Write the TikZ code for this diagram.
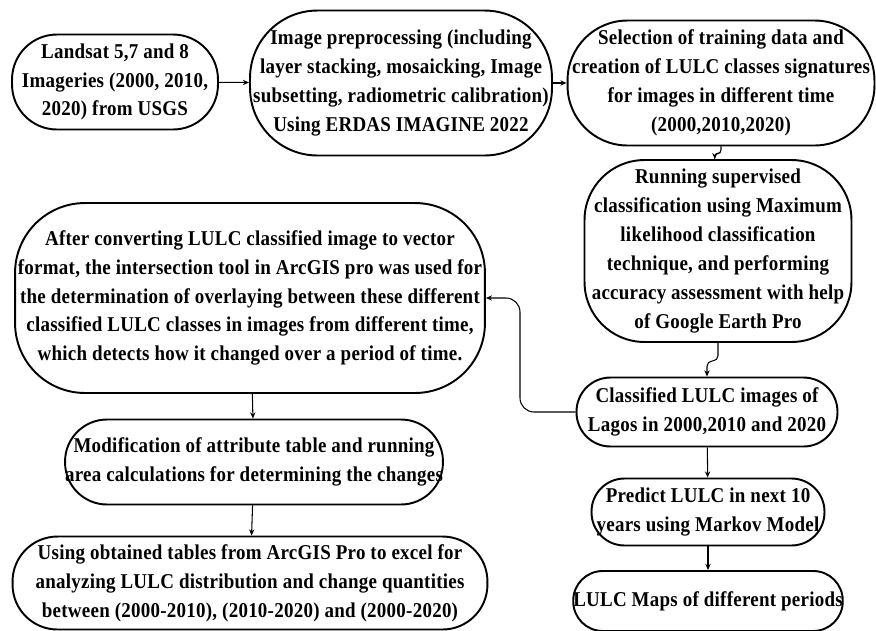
\documentclass[tikz,border=0pt]{standalone}
\usepackage{fontspec}
\setmainfont{Liberation Serif}[FakeStretch=0.9, LetterSpace=1.2]
\usetikzlibrary{arrows.meta}

\tikzset{
  stage/.style={draw, line width=1.1pt, align=center, inner sep=0pt,
    font=\bfseries\fontsize{12}{16.4}\selectfont},
  flow/.style={line width=0.6pt, -{Stealth[length=3.5pt, width=3pt]}},
}

\begin{document}
\begin{tikzpicture}[x=0.02cm, y=-0.02cm]
  \useasboundingbox (0,0) rectangle (876,630);
  \node[stage, minimum width=4.12cm, minimum height=1.9cm, rounded corners=0.9cm] (land) at (115, 82)
    {Landsat 5,7 and 8\\Imageries (2000, 2010,\\2020) from USGS};
  \node[stage, minimum width=6.04cm, minimum height=2.9cm, rounded corners=1.35cm] (prep) at (401, 83)
    {Image preprocessing (including\\layer stacking, mosaicking, Image\\subsetting, radiometric calibration)\\Using ERDAS IMAGINE 2022};
  \node[stage, minimum width=6.14cm, minimum height=2.5cm, rounded corners=1.2cm] (sel) at (721, 83)
    {Selection of training data and\\creation of LULC classes signatures\\for images in different time\\(2000,2010,2020)};
  \node[stage, minimum width=5.34cm, minimum height=3.64cm, rounded corners=1.2cm] (run) at (718, 251)
    {Running supervised\\classification using Maximum\\likelihood classification\\technique, and performing\\accuracy assessment with help\\of Google Earth Pro};
  \node[stage, minimum width=5.22cm, minimum height=1.38cm, rounded corners=0.68cm] (cls) at (707, 412)
    {Classified LULC images of\\Lagos in 2000,2010 and 2020};
  \node[stage, minimum width=9.4cm, minimum height=3.8cm, rounded corners=1.4cm] (aft) at (250, 298)
    {After converting LULC classified image to vector\\format, the intersection tool in ArcGIS pro was used for\\the determination of overlaying between these different\\classified LULC classes in images from different time,\\which detects how it changed over a period of time.};
  \node[stage, minimum width=7.44cm, minimum height=1.7cm, rounded corners=0.84cm] (mod) at (254, 462)
    {Modification of attribute table and running\\area calculations for determining the changes};
  \node[stage, minimum width=9.5cm, minimum height=1.86cm, rounded corners=0.9cm] (use) at (250, 583)
    {Using obtained tables from ArcGIS Pro to excel for\\analyzing LULC distribution and change quantities\\between (2000-2010), (2010-2020) and (2000-2020)};
  \node[stage, minimum width=4.66cm, minimum height=1.34cm, rounded corners=0.66cm] (pred) at (708, 512)
    {Predict LULC in next 10\\years using Markov Model};
  \node[stage, minimum width=5.3cm, minimum height=1.2cm, rounded corners=0.59cm] (map) at (708, 601)
    {LULC Maps of different periods};

  \draw[flow] (land) -- (prep);
  \draw[flow] (prep) -- (sel);
  \draw[flow, rounded corners=2pt] (sel.south) -- ++(0,7) -| ([xshift=-3\pgflinewidth]run.north);
  \draw[flow, rounded corners=3pt] (run.south) -- ++(0,18) -| (cls.north);
  \draw[flow, rounded corners=8pt] (cls.west) -| (520, 298) -- (aft.east);
  \draw[flow] (aft) -- (mod);
  \draw[flow] (mod) -- (use);
  \draw[flow] (cls) -- (pred);
  \draw[flow] (pred) -- (map);
\end{tikzpicture}
\end{document}
